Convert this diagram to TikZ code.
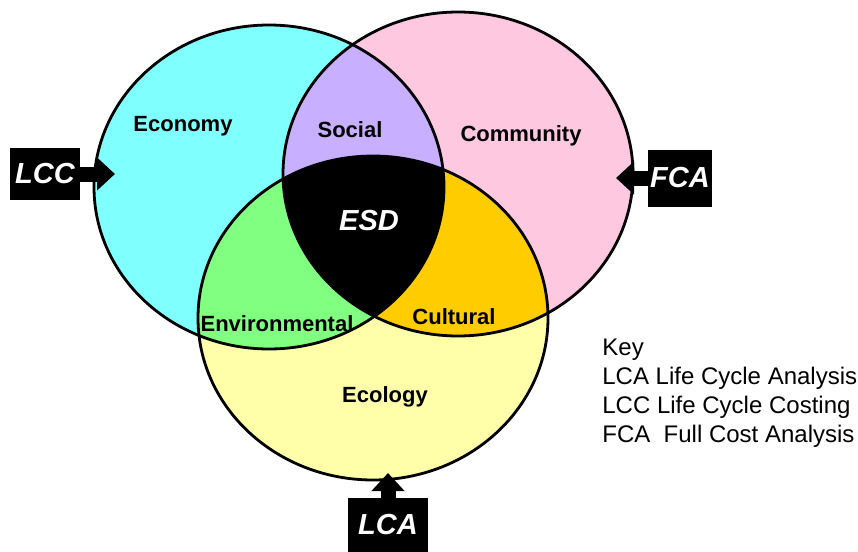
\documentclass[tikz,border=0pt]{standalone}
\usepackage{fontspec}
\setmainfont{Liberation Sans}
\usetikzlibrary{arrows.meta, positioning}
\definecolor{econ}{RGB}{128,255,255}
\definecolor{comm}{RGB}{255,200,225}
\definecolor{ecol}{RGB}{255,255,170}
\definecolor{soc}{RGB}{200,175,255}
\definecolor{envr}{RGB}{128,255,128}
\definecolor{cult}{RGB}{255,204,0}
\tikzset{%
	ring/.style={x radius=87.5pt, y radius=81pt},
	outline/.style={draw, line width=1.4pt},
	area/.style={font=\fontsize{11}{13}\selectfont\bfseries, inner sep=0pt, anchor=base},
	core/.style={text=white, font=\fontsize{14.5}{16}\selectfont\bfseries\itshape,
		inner sep=0pt, anchor=base},
	tag/.style={fill=black, text=white, font=\fontsize{14.5}{16}\selectfont\bfseries\itshape,
		inner sep=0pt},
	pointer/.style={line width=7.5pt, -{Triangle[length=9pt, width=16pt]}},
	keyline/.style={font=\fontsize{12}{14}\selectfont, anchor=base west, inner sep=0pt}
}

\begin{document}
\begin{tikzpicture}[x=0.5pt, y=-0.5pt]
	\useasboundingbox (0,0) rectangle (858,552);
	\coordinate (econ-c) at (269,187);
	\coordinate (comm-c) at (458,174);
	\coordinate (ecol-c) at (373,318);

	\fill[econ] (econ-c) ellipse [ring];
	\fill[comm] (comm-c) ellipse [ring];
	\fill[ecol] (ecol-c) ellipse [ring];
	\begin{scope}
		\clip (comm-c) ellipse [ring];
		\fill[cult] (ecol-c) ellipse [ring];
	\end{scope}
	\begin{scope}
		\clip (econ-c) ellipse [ring];
		\fill[soc] (comm-c) ellipse [ring];
		\fill[envr] (ecol-c) ellipse [ring];
		\clip (comm-c) ellipse [ring];
		\fill[black] (ecol-c) ellipse [ring];
	\end{scope}
	\draw[outline] (econ-c) ellipse [ring];
	\draw[outline] (comm-c) ellipse [ring];
	\draw[outline] (ecol-c) ellipse [ring];

	\node[area] (economy) at (183,131) {Economy};
	\node[area] (social) at (350,137) {Social};
	\node[area] (community) at (521,141) {Community};
	\node[area] (environ) at (277,331) {Environmental};
	\node[area] (cultural) at (454,324) {Cultural};
	\node[area] (ecology) at (385,402) {Ecology};
	\node[core] (esd) at (369,230) {ESD};

	\node[tag, minimum width=35pt, minimum height=26pt] (lcc) at (45,174) {LCC};
	\node[tag, minimum width=32pt, minimum height=28.5pt] (fca) at (680,178) {FCA};
	\node[tag, minimum width=40pt, minimum height=27pt] (lca) at (388,525) {LCA};
	\coordinate (lcc-tip) at (115,174);
	\coordinate (fca-tip) at (616,178);
	\coordinate (lca-tip) at (388,473);
	\draw[pointer] (lcc) -- (lcc-tip);
	\draw[pointer] (fca) -- (fca-tip);
	\draw[pointer] (lca) -- (lca-tip);

	\node[keyline] (key) at (602,355) {Key};
	\node[keyline] (key-lca) at (602,384) {LCA Life Cycle Analysis};
	\node[keyline] (key-lcc) at (602,413) {LCC Life Cycle Costing};
	\node[keyline] (key-fca) at (602,442) {FCA\ \ Full Cost Analysis};
\end{tikzpicture}
\end{document}
